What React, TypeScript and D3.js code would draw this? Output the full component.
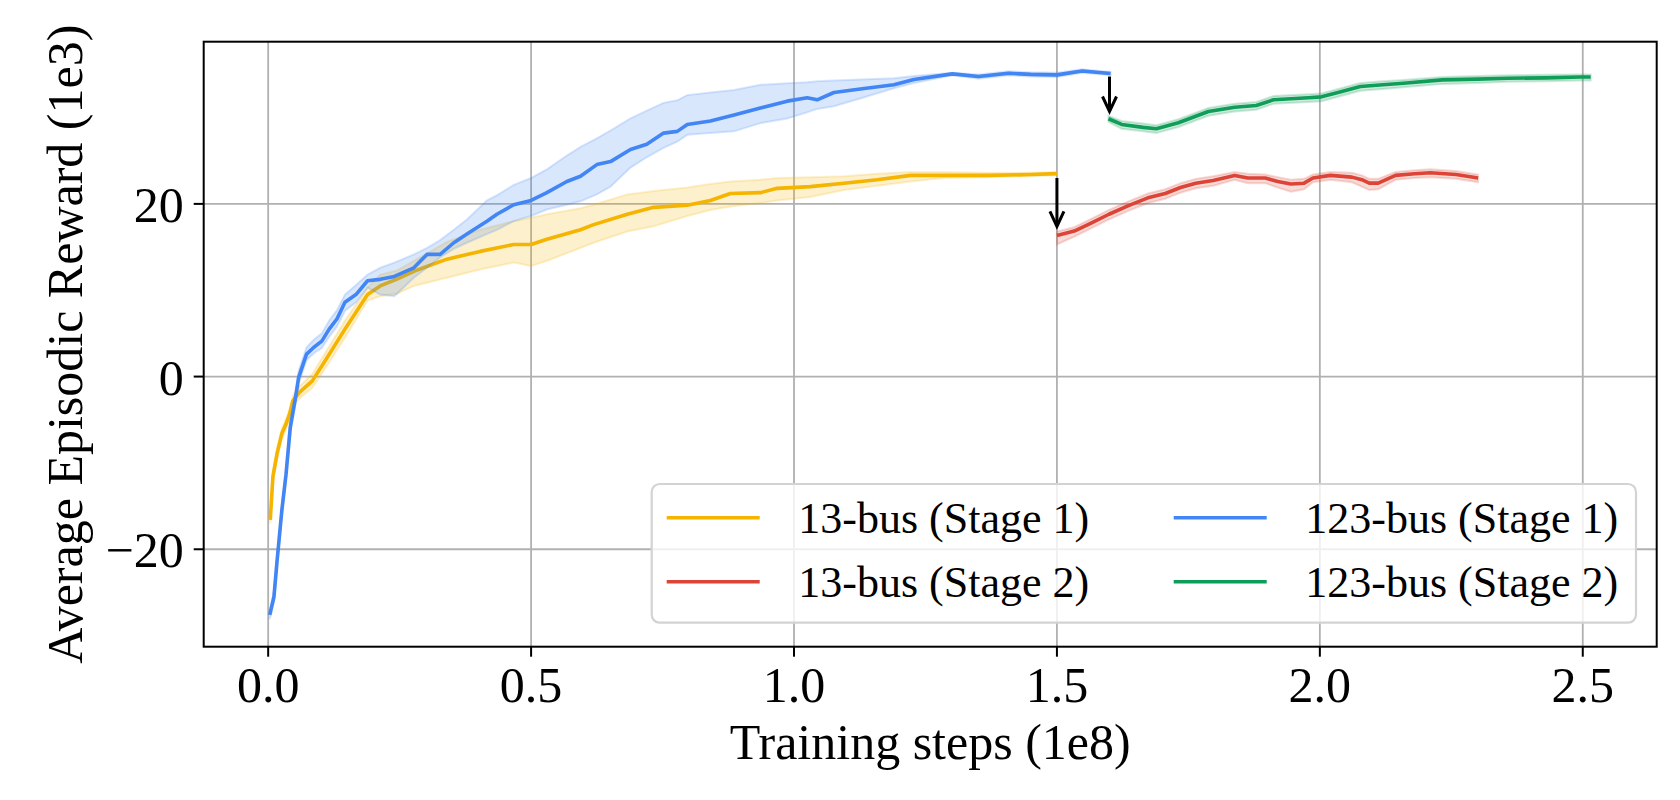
import * as d3 from 'd3'

// ---- data ----
// 13-bus, stage 1
const x13s1 = [0.004, 0.009, 0.017, 0.026, 0.034, 0.041, 0.047, 0.06, 0.084, 0.106, 0.146, 0.189, 0.213, 0.245, 0.277, 0.34, 0.403, 0.467, 0.5, 0.53, 0.594, 0.619, 0.683, 0.733, 0.797, 0.841, 0.879, 0.936, 0.968, 1.031, 1.095, 1.158, 1.222, 1.284, 1.367, 1.45, 1.5]
const m13s1 = [-16.6, -11.6, -8.9, -6.6, -5.5, -4.3, -2.8, -1.8, -0.5, 1.6, 5.5, 9.5, 10.5, 11.3, 12.2, 13.6, 14.5, 15.3, 15.3, 15.9, 17.0, 17.6, 18.8, 19.6, 19.85, 20.4, 21.2, 21.3, 21.8, 22.0, 22.4, 22.8, 23.3, 23.3, 23.3, 23.4, 23.5]
const hi13s1 = [-16.2, -11.0, -8.3, -6.0, -4.9, -3.7, -2.2, -1.1, 0.3, 2.5, 6.5, 10.3, 11.8, 12.3, 13.4, 15.6, 17.0, 18.0, 18.4, 18.8, 19.5, 19.9, 21.1, 21.5, 21.9, 22.3, 22.6, 22.8, 23.0, 23.1, 23.2, 23.5, 23.7, 23.7, 23.6, 23.6, 23.7]
const lo13s1 = [-17.0, -12.2, -9.5, -7.2, -6.1, -4.9, -3.4, -2.5, -1.3, 0.7, 4.5, 8.8, 9.3, 9.6, 10.5, 11.45, 12.4, 13.2, 12.8, 13.4, 14.9, 15.5, 16.8, 17.4, 18.6, 19.3, 19.7, 20.1, 20.4, 20.8, 21.6, 22.1, 22.6, 23.0, 23.1, 23.2, 23.3]

// 123-bus, stage 1
const x123s1 = [0.003, 0.011, 0.017, 0.026, 0.034, 0.042, 0.051, 0.058, 0.073, 0.087, 0.102, 0.116, 0.131, 0.146, 0.167, 0.189, 0.213, 0.24, 0.277, 0.302, 0.327, 0.353, 0.378, 0.416, 0.435, 0.467, 0.5, 0.53, 0.568, 0.594, 0.625, 0.651, 0.689, 0.72, 0.752, 0.778, 0.797, 0.841, 0.886, 0.936, 0.987, 1.025, 1.044, 1.076, 1.126, 1.19, 1.228, 1.301, 1.351, 1.408, 1.45, 1.5, 1.548, 1.602]
const m123s1 = [-27.6, -25.5, -21.3, -15.5, -11.3, -5.9, -2.8, -0.1, 2.6, 3.4, 4.1, 5.5, 6.7, 8.6, 9.5, 11.1, 11.26, 11.6, 12.6, 14.15, 14.15, 15.5, 16.5, 18.0, 18.8, 19.9, 20.4, 21.3, 22.6, 23.2, 24.55, 24.9, 26.3, 26.9, 28.2, 28.4, 29.2, 29.6, 30.3, 31.1, 31.9, 32.3, 32.05, 32.9, 33.3, 33.8, 34.4, 35.06, 34.75, 35.13, 35.0, 34.94, 35.4, 35.1]
const hi123s1 = [-27.1, -24.9, -20.7, -14.9, -10.7, -5.2, -2.1, 0.7, 3.4, 4.3, 5.0, 6.5, 7.7, 9.5, 10.6, 11.8, 12.6, 13.2, 14.15, 14.9, 15.8, 17.0, 18.2, 20.4, 21.0, 22.2, 23.0, 24.0, 25.6, 26.6, 27.6, 28.5, 29.9, 30.8, 31.7, 32.0, 32.6, 32.9, 33.2, 33.8, 33.97, 34.1, 34.2, 34.3, 34.4, 34.55, 34.8, 35.2, 35.0, 35.35, 35.25, 35.2, 35.6, 35.3]
const lo123s1 = [-28.1, -26.1, -21.9, -16.1, -11.9, -6.6, -3.5, -0.8, 1.9, 2.7, 3.3, 4.6, 5.8, 7.6, 8.6, 10.3, 9.5, 9.3, 11.45, 12.6, 13.8, 14.8, 15.5, 16.5, 17.0, 18.0, 18.6, 19.35, 19.9, 20.3, 21.1, 22.0, 24.2, 25.4, 26.5, 27.2, 28.0, 28.2, 28.4, 29.35, 29.9, 30.6, 31.0, 31.3, 32.2, 33.4, 34.0, 34.9, 34.5, 34.9, 34.75, 34.7, 35.2, 34.9]

// 13-bus, stage 2
const x13s2 = [1.5, 1.533, 1.566, 1.599, 1.636, 1.673, 1.706, 1.735, 1.764, 1.797, 1.838, 1.863, 1.896, 1.92, 1.945, 1.97, 1.987, 2.02, 2.061, 2.08, 2.094, 2.111, 2.144, 2.18, 2.21, 2.259, 2.301]
const m13s2 = [16.35, 16.85, 17.8, 18.8, 19.8, 20.7, 21.2, 21.9, 22.4, 22.7, 23.3, 23.0, 23.0, 22.6, 22.3, 22.4, 23.0, 23.3, 23.1, 22.8, 22.4, 22.4, 23.3, 23.5, 23.6, 23.4, 23.0]
const hi13s2 = [16.8, 17.3, 18.3, 19.3, 20.3, 21.2, 21.7, 22.4, 22.9, 23.2, 23.7, 23.5, 23.4, 23.1, 22.8, 22.9, 23.4, 23.7, 23.6, 23.3, 22.9, 22.9, 23.7, 23.9, 24.0, 23.8, 23.4]
const lo13s2 = [15.3, 16.2, 17.2, 18.2, 19.2, 20.1, 20.6, 21.3, 21.8, 22.1, 22.8, 22.4, 22.4, 21.9, 21.4, 21.7, 22.5, 22.8, 22.5, 22.0, 21.6, 21.7, 22.8, 23.0, 23.1, 22.9, 22.5]

// 123-bus, stage 2
const x123s2 = [1.598, 1.623, 1.664, 1.689, 1.731, 1.788, 1.838, 1.879, 1.912, 1.978, 2.003, 2.04, 2.077, 2.12, 2.159, 2.233, 2.3, 2.357, 2.43, 2.495, 2.515]
const m123s2 = [29.86, 29.2, 28.86, 28.7, 29.4, 30.7, 31.2, 31.4, 32.06, 32.3, 32.4, 33.0, 33.6, 33.8, 33.97, 34.36, 34.45, 34.55, 34.6, 34.7, 34.7]
const hi123s2 = [30.2, 29.6, 29.3, 29.1, 29.8, 31.1, 31.6, 31.8, 32.5, 32.7, 32.8, 33.4, 34.0, 34.2, 34.35, 34.7, 34.8, 34.9, 34.95, 35.0, 35.0]
const lo123s2 = [29.5, 28.7, 28.4, 28.2, 28.9, 30.2, 30.7, 30.9, 31.6, 31.8, 31.9, 32.5, 33.1, 33.3, 33.5, 33.9, 34.0, 34.15, 34.2, 34.3, 34.3]

const labels = ['13-bus (Stage 1)', '123-bus (Stage 1)', '13-bus (Stage 2)', '123-bus (Stage 2)']
const colors = ['#F4B400', '#4285F4', '#DB4437', '#0F9D58']

// transfer arrows: x, start y, end y
const arrowX = [1.5, 1.6]
const arrowFrom = [23.0, 34.75]
const arrowTo = [17.4, 30.7]

const xTicks = [0, 0.5, 1.0, 1.5, 2.0, 2.5]
const yTicks = [-20, 0, 20]

const W = 1680
const H = 800
const margin = { left: 203.7, right: W - 1656.7, top: 41.7, bottom: H - 646.7 }
const font = '"Liberation Serif", "Times New Roman", serif'

const toRows = (xs, m, lo, hi) => xs.map((x, i) => ({ x, m: m[i], lo: lo[i], hi: hi[i] }))

const series = [
  toRows(x13s1, m13s1, lo13s1, hi13s1),
  toRows(x123s1, m123s1, lo123s1, hi123s1),
  toRows(x13s2, m13s2, lo13s2, hi13s2),
  toRows(x123s2, m123s2, lo123s2, hi123s2),
]

const App = () => {
  const allX = series.flat().map(d => d.x)
  const allY = series.flat().flatMap(d => [d.lo, d.hi])
  const [x0, x1] = d3.extent(allX) as [number, number]
  const [y0, y1] = d3.extent(allY) as [number, number]
  const px = (x1 - x0) * 0.05
  const py = (y1 - y0) * 0.05

  const xScale = d3.scaleLinear().domain([x0 - px, x1 + px]).range([margin.left, W - margin.right])
  const yScale = d3.scaleLinear().domain([y0 - py, y1 + py]).range([H - margin.bottom, margin.top])

  const line = d3.line<any>().x(d => xScale(d.x)).y(d => yScale(d.m))
  const band = d3.area<any>().x(d => xScale(d.x)).y0(d => yScale(d.lo)).y1(d => yScale(d.hi))

  const left = margin.left
  const right = W - margin.right
  const top = margin.top
  const bottom = H - margin.bottom

  const legendRows = [
    { i: 0, col: 0, row: 0 },
    { i: 1, col: 1, row: 0 },
    { i: 2, col: 0, row: 1 },
    { i: 3, col: 1, row: 1 },
  ]
  const legX = [666.7, 1173.7]
  const legY = [517.7, 581.7]

  return (
    <div style={{ position: 'absolute', left: 0, top: 0 }}>
      <svg width={W} height={H} style={{ display: 'block', background: '#fff' }}>
        <defs>
          <clipPath id="plot">
            <rect x={left} y={top} width={right - left} height={bottom - top} />
          </clipPath>
        </defs>

        {/* grid */}
        <g stroke="#b0b0b0" strokeWidth={1.8}>
          {xTicks.map(t => (
            <line key={'gx' + t} x1={xScale(t)} x2={xScale(t)} y1={top} y2={bottom} />
          ))}
          {yTicks.map(t => (
            <line key={'gy' + t} x1={left} x2={right} y1={yScale(t)} y2={yScale(t)} />
          ))}
        </g>

        <g clipPath="url(#plot)">
          {series.map((s, i) => (
            <g key={'s' + i}>
              <path d={band(s) || ''} fill={colors[i]} fillOpacity={0.2}
                stroke={colors[i]} strokeOpacity={0.2} strokeWidth={2} />
              <path d={line(s) || ''} fill="none" stroke={colors[i]}
                strokeWidth={3.6} strokeLinejoin="round" />
            </g>
          ))}
        </g>

        {/* arrows */}
        {arrowX.map((ax, i) => {
          const xa = xScale(ax)
          const ya = yScale(arrowFrom[i])
          const yb = yScale(arrowTo[i])
          return (
            <g key={'a' + i} stroke="#000" strokeWidth={3} fill="none">
              <line x1={xa} x2={xa} y1={ya} y2={yb - 1} />
              <path d={`M ${xa - 7} ${yb - 15} L ${xa} ${yb} L ${xa + 7} ${yb - 15}`} strokeLinejoin="miter" />
            </g>
          )
        })}

        {/* spines */}
        <rect x={left} y={top} width={right - left} height={bottom - top}
          fill="none" stroke="#000" strokeWidth={2} />

        {/* ticks */}
        <g stroke="#000" strokeWidth={2}>
          {xTicks.map(t => (
            <line key={'tx' + t} x1={xScale(t)} x2={xScale(t)} y1={bottom} y2={bottom + 10} />
          ))}
          {yTicks.map(t => (
            <line key={'ty' + t} x1={left - 10} x2={left} y1={yScale(t)} y2={yScale(t)} />
          ))}
        </g>

        <g fontFamily={font} fontSize={50} fill="#000">
          {xTicks.map(t => (
            <text key={'lx' + t} x={xScale(t)} y={702.3} textAnchor="middle">
              {d3.format('.1f')(t)}
            </text>
          ))}
          {yTicks.map(t => (
            <text key={'ly' + t} x={left - 20} y={yScale(t) + 18} textAnchor="end">
              {t < 0 ? '\u2212' + Math.abs(t) : String(t)}
            </text>
          ))}
          <text x={(left + right) / 2} y={759.3} textAnchor="middle">Training steps (1e8)</text>
          <text transform={`translate(82.3, ${(top + bottom) / 2}) rotate(-90)`} textAnchor="middle">
            Average Episodic Reward (1e3)
          </text>
        </g>

        {/* legend */}
        <rect x={651.7} y={484} width={1636 - 651.7} height={622.7 - 484} rx={8}
          fill="#fff" fillOpacity={0.8} stroke="#d3d3d3" strokeWidth={2.2} />
        <g fontFamily={font} fontSize={44}>
          {legendRows.map(r => (
            <g key={'leg' + r.i}>
              <line x1={legX[r.col]} x2={legX[r.col] + 93} y1={legY[r.row]} y2={legY[r.row]}
                stroke={colors[r.i]} strokeWidth={3.6} />
              <text x={legX[r.col] + 131.6} y={legY[r.row] + 15.6}>{labels[r.i]}</text>
            </g>
          ))}
        </g>
      </svg>
    </div>
  )
}

export default App
